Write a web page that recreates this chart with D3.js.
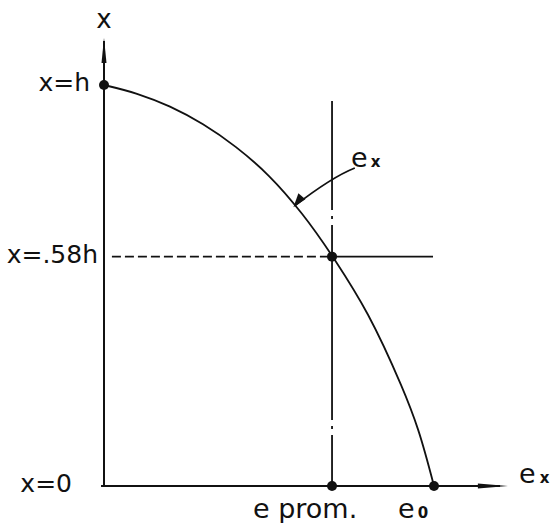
<!DOCTYPE html>
<html>
<head>
<meta charset="utf-8">
<script src="https://cdn.jsdelivr.net/npm/d3@7"></script>
<style>
  html, body { margin: 0; padding: 0; background: #fff; }
  svg { display: block; }
  text { font-family: "DejaVu Sans", sans-serif; fill: #111; }
</style>
</head>
<body>
<div id="chart"></div>
<script>
// curve e_x(x) (e / e0, x / h)
const curveE = [0, 0.1, 0.2, 0.3, 0.4, 0.5, 0.6, 0.7, 0.8, 0.9, 0.952, 1];
const curveX = [1, 0.978, 0.946, 0.902, 0.845, 0.773, 0.679, 0.563, 0.427, 0.252, 0.14, 0];

const ePromValue = 0.691;   // e prom. / e0
const xAvgValue = 0.572;    // .58h
const yLabels = ['x=h', 'x=.58h', 'x=0'];
const yLabelValues = [1, xAvgValue, 0];

const svg = d3.select('#chart')
              .append('svg')
              .attr('width', 555)
              .attr('height', 523);

const x = d3.scaleLinear().domain([0, 1]).range([104, 434]);
const y = d3.scaleLinear().domain([0, 1]).range([486, 85]);

const ink = '#111';

// y axis with narrow arrow
svg.append('line')
   .attr('x1', x(0)).attr('y1', y(0) + 1)
   .attr('x2', x(0)).attr('y2', y(1.11))
   .attr('stroke', ink).attr('stroke-width', 2);
svg.append('path')
   .attr('d', `M${x(0)},${y(1.118)} L${x(0) - 2.5},${y(1.055)} L${x(0) + 2.5},${y(1.055)} Z`)
   .attr('fill', ink);

// x axis with narrow arrow
svg.append('line')
   .attr('x1', x(-0.009)).attr('y1', y(0))
   .attr('x2', x(1.2)).attr('y2', y(0))
   .attr('stroke', ink).attr('stroke-width', 2);
svg.append('path')
   .attr('d', `M${x(1.224)},${y(0)} L${x(1.133)},${y(0) - 2.5} L${x(1.133)},${y(0) + 2.5} Z`)
   .attr('fill', ink);

// vertical dash-dot line at e prom.
svg.append('line')
   .attr('x1', x(ePromValue)).attr('y1', y(0.96))
   .attr('x2', x(ePromValue)).attr('y2', y(0))
   .attr('stroke', ink).attr('stroke-width', 1.8)
   .attr('stroke-dasharray', '195,6,3,6')
   .attr('stroke-dashoffset', 86);

// horizontal line at .58h: dashed left of e prom., solid right of it
svg.append('line')
   .attr('x1', x(0.024)).attr('y1', y(xAvgValue))
   .attr('x2', x(ePromValue)).attr('y2', y(xAvgValue))
   .attr('stroke', ink).attr('stroke-width', 1.8)
   .attr('stroke-dasharray', '9,4');
svg.append('line')
   .attr('x1', x(ePromValue)).attr('y1', y(xAvgValue))
   .attr('x2', x(0.997)).attr('y2', y(xAvgValue))
   .attr('stroke', ink).attr('stroke-width', 1.8);

// curve
const line = d3.line()
               .x(d => x(d[0]))
               .y(d => y(d[1]))
               .curve(d3.curveCatmullRom.alpha(0.5));
svg.append('path')
   .datum(d3.zip(curveE, curveX))
   .attr('d', line)
   .attr('fill', 'none')
   .attr('stroke', ink)
   .attr('stroke-width', 1.8);

// points
const dots = [[0, 1], [ePromValue, xAvgValue], [ePromValue, 0], [1, 0]];
svg.selectAll('circle.pt')
   .data(dots)
   .enter()
   .append('circle')
   .attr('class', 'pt')
   .attr('cx', d => x(d[0]))
   .attr('cy', d => y(d[1]))
   .attr('r', 5)
   .attr('fill', ink);

// annotation arrow from label e_x to the curve
const a0 = [0.76, 0.793], a1 = [0.69, 0.77], a2 = [0.58, 0.7];
svg.append('path')
   .attr('d', `M${x(a0[0])},${y(a0[1])} Q${x(a1[0])},${y(a1[1])} ${x(a2[0])},${y(a2[1])}`)
   .attr('fill', 'none')
   .attr('stroke', ink)
   .attr('stroke-width', 1.8);
svg.append('path')
   .attr('d', `M${x(a2[0]) - 2},${y(a2[1]) + 2} L${x(a2[0]) + 3},${y(a2[1]) - 12} L${x(a2[0]) + 10},${y(a2[1]) - 6} Z`)
   .attr('fill', ink);

// labels
svg.append('text')
   .attr('x', x(0)).attr('y', 28)
   .attr('text-anchor', 'middle')
   .attr('font-size', 26)
   .text('x');

const yLabelEnd = [90, 98, 72];
svg.selectAll('text.ylab')
   .data(yLabels)
   .enter()
   .append('text')
   .attr('class', 'ylab')
   .attr('x', (d, i) => yLabelEnd[i])
   .attr('y', (d, i) => y(yLabelValues[i]) + 6)
   .attr('text-anchor', 'end')
   .attr('font-size', 25)
   .text(d => d);

svg.append('text')
   .attr('x', x(ePromValue) - 79).attr('y', 518)
   .attr('font-size', 27)
   .text('e prom.');

const e0 = svg.append('text')
   .attr('x', x(1) - 36).attr('y', 518)
   .attr('font-size', 27);
e0.append('tspan').text('e');
e0.append('tspan').attr('font-size', 15).attr('font-weight', 'bold').attr('dx', 3).text('0');

const ex = svg.append('text')
   .attr('x', 519).attr('y', 483)
   .attr('font-size', 27);
ex.append('tspan').text('e');
ex.append('tspan').attr('font-size', 15).attr('font-weight', 'bold').attr('dx', 4).text('x');

const exc = svg.append('text')
   .attr('x', 351).attr('y', 167)
   .attr('font-size', 27);
exc.append('tspan').text('e');
exc.append('tspan').attr('font-size', 15).attr('font-weight', 'bold').attr('dx', 3).text('x');
</script>
</body>
</html>
